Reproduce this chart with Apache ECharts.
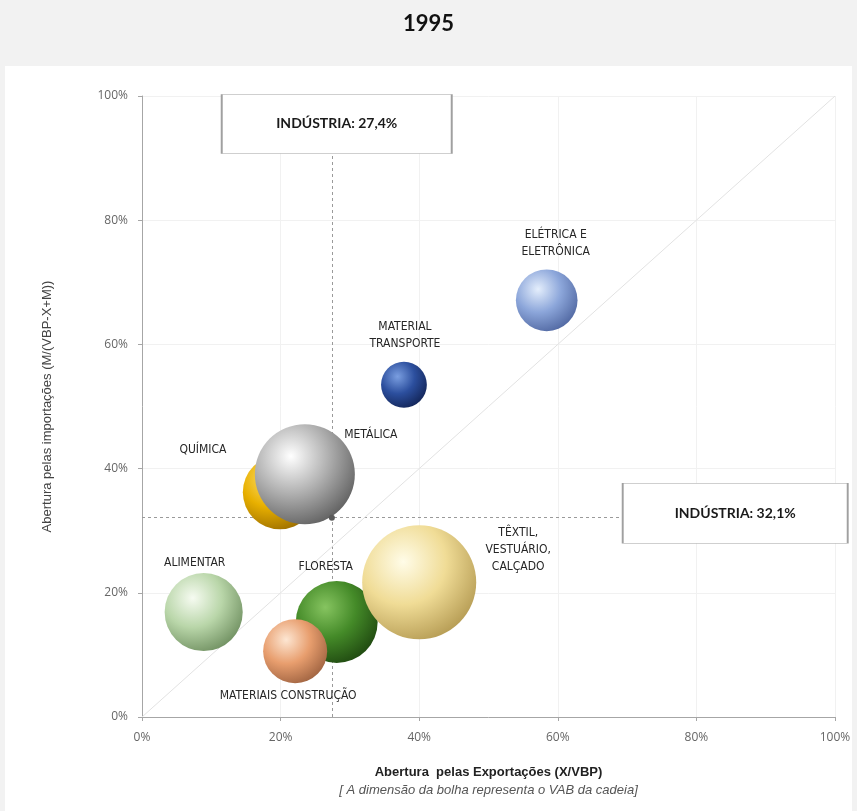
<!DOCTYPE html>
<html>
<head>
<meta charset="utf-8">
<script src="https://cdn.jsdelivr.net/npm/echarts@6/dist/echarts.min.js"></script>
<style>
  html, body { margin: 0; padding: 0; background: #f2f2f2; }
  #chart { width: 857px; height: 811px; }
</style>
</head>
<body>
<div id="chart"></div>
<script>
// Cadeias produtivas: abertura pelas exportações (X/VBP) vs. importações (M/(VBP-X+M)), 1995
const chains = ['ALIMENTAR', 'QUÍMICA', 'METÁLICA', 'FLORESTA', 'MATERIAIS CONSTRUÇÃO',
                'TÊXTIL,\nVESTUÁRIO,\nCALÇADO', 'MATERIAL\nTRANSPORTE', 'ELÉTRICA E\nELETRÔNICA'];
const exportOpen = [8.9, 19.9, 23.5, 28.1, 22.1, 40.0, 37.8, 58.4];   // % X/VBP
const importOpen = [16.9, 36.2, 39.1, 15.3, 10.6, 21.7, 53.5, 67.1];  // % M/(VBP-X+M)
const vab = [61, 55, 100, 67, 41, 130, 21, 38];                         // VAB da cadeia (relativo)
const industryX = 27.4;
const industryY = 32.1;
const axisTicks = [0, 20, 40, 60, 80, 100];

// sphere shading per chain: [highlight, mid, edge]
const palettes = [
  ['#f6fbf1', '#b9d6a9', '#6f8f60'],
  ['#ffe070', '#e8b000', '#9a6c00'],
  ['#ffffff', '#b0b0b0', '#5e5e5e'],
  ['#86c460', '#448a28', '#1f4810'],
  ['#fde6d2', '#e89e6e', '#9e6240'],
  ['#fffce8', '#f0dc96', '#b49a52'],
  ['#7a9ee0', '#2c4f9e', '#122456'],
  ['#e4eefc', '#8ca6da', '#4f66a0']
];
const labelOffsets = [[-9, -49], [-77, -42], [66, -39], [-11, -55], [-7, 45], [99, -32], [1, -49], [9, -57]];

function sphere(p) {
  return {
    type: 'radial', x: 0.36, y: 0.32, r: 0.75,
    colorStops: [
      { offset: 0, color: p[0] },
      { offset: 0.5, color: p[1] },
      { offset: 1, color: p[2] }
    ]
  };
}

const bubbles = chains.map((name, i) => ({
  name: name,
  value: [exportOpen[i], importOpen[i], vab[i]],
  itemStyle: { color: sphere(palettes[i]) },
  label: { offset: labelOffsets[i] }
}));

const fmtPct = v => 'INDÚSTRIA: ' + v.toFixed(1).replace('.', ',') + '%';

const chart = echarts.init(document.getElementById('chart'));
chart.setOption({
  backgroundColor: '#f2f2f2',
  animation: false,
  title: {
    text: '1995', left: 'center', top: 8,
    textStyle: { fontFamily: 'Lato', fontSize: 22, fontWeight: 'bold', color: '#111' }
  },
  graphic: [{
    type: 'rect', z: -10, shape: { x: 5, y: 66, width: 847, height: 760 },
    style: { fill: '#ffffff' }
  }],
  grid: { left: 142, right: 22, top: 96, bottom: 94 },
  xAxis: {
    type: 'value', min: 0, max: 100, interval: 20,
    axisLine: { lineStyle: { color: '#a6a6a6' } },
    axisTick: { length: 4, lineStyle: { color: '#a6a6a6' } },
    splitLine: { lineStyle: { color: '#f1f1f1' } },
    axisLabel: {
      formatter: v => axisTicks.includes(v) ? v + '%' : '',
      margin: 15, color: '#666', fontFamily: 'Open Sans', fontSize: 12
    },
    name: '{a|Abertura  pelas Exportações (X/VBP)}\n{b|[ A dimensão da bolha representa o VAB da cadeia]}',
    nameLocation: 'middle', nameGap: 46,
    nameTextStyle: {
      rich: {
        a: { fontFamily: 'Liberation Sans', fontSize: 13, fontWeight: 'bold', color: '#222', lineHeight: 18 },
        b: { fontFamily: 'Liberation Sans', fontSize: 13, fontStyle: 'italic', color: '#555', lineHeight: 18 }
      }
    }
  },
  yAxis: {
    type: 'value', min: 0, max: 100, interval: 20,
    axisLine: { show: true, lineStyle: { color: '#a6a6a6' } },
    axisTick: { show: true, length: 4, lineStyle: { color: '#a6a6a6' } },
    splitLine: { lineStyle: { color: '#f1f1f1' } },
    axisLabel: {
      formatter: v => axisTicks.includes(v) ? v + '%' : '',
      margin: 14, color: '#666', fontFamily: 'Open Sans', fontSize: 12
    },
    name: 'Abertura pelas importações (M/(VBP-X+M))',
    nameLocation: 'middle', nameGap: 88, nameRotate: 90,
    nameTextStyle: { fontFamily: 'Liberation Sans', fontSize: 13, color: '#444' }
  },
  series: [
    {
      // 45° reference line (X/VBP = M/(VBP-X+M))
      type: 'line', silent: true, symbol: 'none', z: 1,
      data: [[0, 0], [100, 100]],
      lineStyle: { color: '#e2e2e2', width: 1 }
    },
    {
      // industry averages: dashed guides and their intersection
      type: 'scatter', silent: true, z: 2, data: [],
      markLine: {
        silent: true, symbol: 'none', label: { show: false }, z: 1,
        lineStyle: { type: [3, 3], color: '#9a9a9a', width: 1 },
        data: [
          [{ coord: [industryX, 0] }, { coord: [industryX, 100] }],
          [{ coord: [0, industryY] }, { coord: [100, industryY] }]
        ]
      },
      markPoint: {
        silent: true, symbol: 'circle', symbolSize: 6, z: 8,
        itemStyle: { color: '#5a5a5a' }, label: { show: false },
        data: [{ coord: [industryX, industryY] }]
      }
    },
    {
      type: 'scatter', z: 3,
      data: bubbles,
      symbolSize: d => 10 * Math.sqrt(d[2]),
      itemStyle: { opacity: 1 },
      emphasis: { disabled: true },
      label: {
        show: true, position: 'inside',
        formatter: p => p.name,
        fontFamily: 'Liberation Sans Narrow, DejaVu Sans Condensed, sans-serif',
        fontSize: 12, color: '#262626', lineHeight: 17
      }
    },
    {
      // industry average boxes
      type: 'scatter', silent: true, z: 10, data: [],
      markPoint: {
        silent: true, symbol: 'rect', symbolSize: [230, 59], z: 10,
        itemStyle: { color: '#ffffff', borderColor: '#a0a0a0', borderWidth: 1 },
        label: {
          show: true, position: 'inside', color: '#1a1a1a',
          fontFamily: 'Lato', fontWeight: 'bold', fontSize: 14,
          formatter: p => p.name
        },
        data: [
          { name: fmtPct(industryX), coord: [industryX + 0.7, 95.5] },
          { name: fmtPct(industryY), coord: [85.6, industryY + 0.7], symbolSize: [225, 60] }
        ]
      }
    }
  ]
});
</script>
</body>
</html>
